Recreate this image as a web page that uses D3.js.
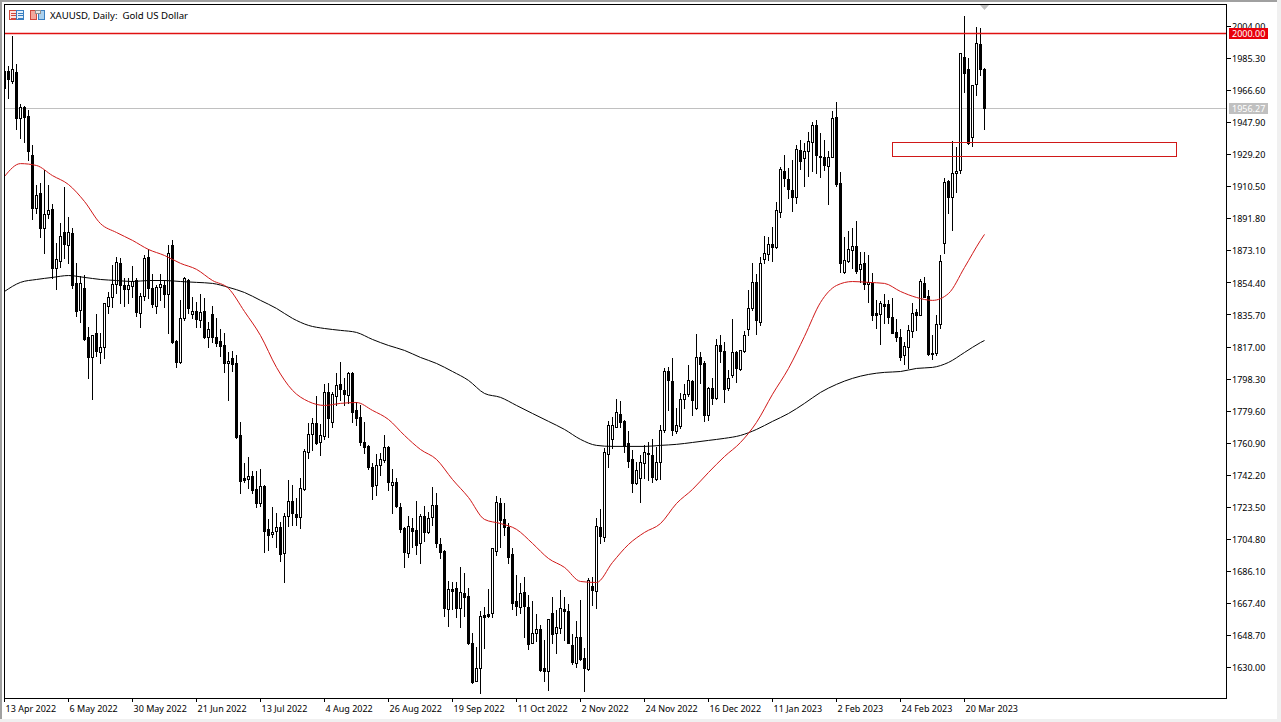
<!DOCTYPE html>
<html>
<head>
<meta charset="utf-8">
<title>XAUUSD Daily</title>
<script src="https://cdn.jsdelivr.net/npm/d3@7"></script>
<style>
  html, body { margin: 0; padding: 0; background: #fff; overflow: hidden; }
  text { font-family: "Noto Sans", sans-serif; font-size: 9px; fill: #000; }
</style>
</head>
<body>
<div id="visualization"></div>
<script>
const opens = [
  1977.8,1977.8,1971.9,1977.2,1950.3,1956.7,1951.5,1928.8,1897.8,1906.6,
  1886.2,1894.4,1897.2,1862.8,1866.9,1883.8,1876.2,1883.2,1854.1,1838.3,
  1851.2,1822.6,1810.9,1824.9,1813.8,1816.7,1840.7,1845.9,1853.5,1865.7,
  1852.9,1850.6,1852.3,1855.8,1836.5,1846.5,1869.3,1851.2,1840.7,1851.8,
  1852.9,1847.7,1876.2,1820.2,1808.0,1833.7,1855.8,1835.9,1837.7,1832.5,
  1837.7,1822.6,1835.9,1822.6,1820.2,1817.9,1807.4,1810.3,1807.4,1765.4,
  1740.3,1739.7,1741.5,1733.9,1725.7,1735.6,1710.6,1707.6,1709.4,1711.7,
  1696.6,1718.1,1726.9,1719.3,1717.5,1733.9,1755.4,1766.0,1772.3,1761.3,
  1764.8,1790.5,1773.0,1788.2,1795.2,1791.7,1788.8,1801.5,1780.0,1775.9,
  1761.3,1759.0,1746.7,1736.2,1747.9,1750.8,1758.4,1736.2,1737.9,1723.4,
  1711.2,1696.6,1711.2,1710.0,1702.4,1718.1,1708.8,1717.5,1724.6,1701.8,
  1697.7,1664.0,1675.6,1676.1,1664.5,1673.3,1671.5,1644.0,1621.8,1629.4,
  1660.3,1660.9,1661.5,1697.7,1725.7,1716.4,1711.7,1696.0,1668.5,1665.1,
  1673.8,1665.1,1644.0,1649.9,1652.2,1629.5,1627.7,1661.5,1649.9,1652.8,
  1663.9,1662.7,1642.9,1632.4,1647.5,1635.3,1628.9,1677.2,1674.4,1711.7,
  1705.9,1754.3,1763.1,1770.0,1777.7,1773.6,1760.7,1751.4,1737.4,1740.3,
  1749.0,1754.9,1753.7,1739.7,1749.6,1768.3,1802.7,1796.9,1767.7,1770.6,
  1786.4,1789.4,1796.9,1781.1,1810.9,1807.4,1777.1,1793.0,1787.0,1817.9,
  1814.4,1793.0,1800.4,1813.8,1803.9,1814.4,1827.2,1839.5,1854.6,1831.3,
  1868.1,1871.0,1876.8,1875.0,1895.5,1919.5,1914.8,1908.3,1904.3,1931.7,
  1927.0,1931.1,1936.3,1946.3,1928.2,1927.6,1922.4,1927.6,1950.9,1912.4,
  1860.5,1866.9,1873.3,1875.6,1862.3,1865.8,1853.5,1854.1,1836.5,1835.9,
  1841.8,1841.8,1834.2,1825.5,1822.6,1812.1,1816.7,1826.1,1837.1,1835.4,
  1854.1,1846.5,1813.3,1813.3,1830.1,1877.4,1913.6,1904.3,1918.3,1920.0,
  1985.9,1978.9,1939.3,1970.2,1993.5,1978.9
];
const highs = [
  1978.4,1980.7,1998.2,1981.9,1958.5,1957.4,1955.0,1934.6,1911.3,1912.4,
  1920.0,1911.3,1900.2,1877.4,1889.1,1910.1,1892.6,1886.2,1865.7,1858.2,
  1858.7,1828.4,1823.7,1836.0,1824.9,1842.4,1848.8,1864.6,1869.3,1868.7,
  1857.0,1857.0,1864.0,1857.0,1848.2,1870.4,1873.9,1859.3,1852.9,1859.3,
  1855.8,1876.2,1879.2,1820.8,1844.2,1857.6,1856.4,1845.9,1843.0,1847.7,
  1845.3,1831.3,1840.7,1833.7,1827.2,1824.9,1813.8,1814.4,1812.1,1773.0,
  1749.0,1752.5,1744.4,1744.4,1745.6,1736.2,1716.4,1723.4,1719.9,1714.6,
  1719.9,1739.1,1736.2,1728.7,1740.3,1757.2,1772.3,1775.3,1788.0,1771.8,
  1795.2,1795.7,1790.5,1801.5,1808.0,1798.7,1802.2,1802.2,1784.6,1782.9,
  1773.0,1759.6,1749.0,1754.3,1754.9,1765.4,1759.0,1745.6,1740.3,1725.7,
  1711.7,1718.1,1717.0,1726.9,1719.3,1724.0,1720.5,1735.0,1731.5,1705.3,
  1698.3,1680.2,1679.6,1679.6,1688.4,1684.9,1676.1,1649.9,1641.7,1662.7,
  1665.0,1675.6,1699.5,1729.8,1728.7,1725.7,1714.0,1699.5,1683.7,1679.0,
  1682.5,1672.1,1668.5,1660.9,1654.5,1645.8,1658.0,1670.9,1663.3,1675.0,
  1670.9,1666.8,1649.0,1657.0,1669.1,1641.1,1682.0,1682.5,1717.0,1722.2,
  1757.8,1773.5,1775.9,1786.4,1785.2,1774.1,1767.7,1756.6,1749.6,1753.7,
  1759.6,1761.3,1763.1,1758.4,1771.2,1804.5,1805.1,1810.3,1781.1,1789.9,
  1795.2,1806.2,1797.5,1824.3,1813.8,1808.6,1793.4,1798.6,1821.4,1823.7,
  1819.6,1803.3,1833.1,1814.4,1815.0,1826.1,1850.0,1865.7,1859.3,1869.3,
  1881.5,1880.9,1886.6,1901.3,1921.7,1928.8,1921.2,1925.8,1934.6,1937.5,
  1935.8,1942.2,1948.0,1949.2,1941.6,1937.5,1931.1,1954.4,1959.7,1918.8,
  1880.9,1884.4,1886.2,1890.2,1872.2,1872.2,1870.4,1860.0,1844.2,1843.6,
  1847.7,1844.2,1845.3,1833.1,1827.2,1819.6,1829.6,1842.4,1838.9,1856.4,
  1857.6,1850.0,1823.7,1835.4,1870.4,1915.3,1914.2,1936.9,1933.4,1988.3,
  2009.8,1985.3,1969.6,2003.5,2002.9,1979.5
];
const lows = [
  1966.1,1962.0,1970.8,1943.9,1938.7,1936.3,1925.8,1891.4,1894.9,1880.9,
  1871.5,1892.0,1857.0,1850.6,1863.4,1868.7,1865.7,1851.2,1834.8,1831.3,
  1820.8,1798.6,1786.4,1811.5,1807.4,1810.3,1836.5,1840.1,1848.2,1842.4,
  1840.7,1842.4,1845.9,1834.8,1828.4,1844.2,1845.3,1840.1,1836.5,1844.2,
  1840.1,1824.9,1819.0,1805.1,1807.4,1832.5,1836.5,1833.7,1828.4,1828.4,
  1822.0,1816.7,1819.6,1817.3,1811.5,1802.2,1785.8,1802.7,1763.7,1731.5,
  1737.9,1734.5,1731.5,1723.4,1724.0,1697.1,1698.3,1705.9,1700.1,1691.9,
  1679.6,1712.3,1712.9,1712.9,1711.2,1733.3,1751.9,1756.6,1760.2,1753.7,
  1763.1,1764.3,1770.0,1782.9,1785.8,1782.9,1784.1,1773.0,1771.2,1759.6,
  1755.1,1745.6,1728.1,1730.4,1742.1,1749.6,1733.3,1719.9,1723.4,1708.8,
  1688.4,1694.3,1700.1,1696.0,1690.7,1703.5,1708.2,1712.9,1700.1,1693.6,
  1659.8,1653.9,1664.0,1659.2,1653.3,1659.8,1643.4,1620.7,1621.8,1614.8,
  1641.1,1659.2,1659.2,1695.4,1700.1,1707.1,1690.7,1664.0,1660.3,1661.5,
  1647.5,1640.5,1644.0,1645.2,1627.7,1621.8,1616.6,1644.0,1638.2,1649.9,
  1645.8,1644.0,1631.8,1630.0,1634.1,1616.0,1628.3,1666.2,1664.5,1702.4,
  1703.5,1746.7,1757.8,1770.0,1770.0,1755.5,1746.7,1732.1,1736.8,1726.3,
  1740.3,1739.1,1737.9,1739.1,1739.7,1767.1,1780.0,1765.4,1766.5,1769.4,
  1781.1,1788.2,1777.1,1780.5,1795.7,1773.6,1774.1,1783.5,1786.4,1808.0,
  1784.6,1791.7,1799.2,1796.3,1803.3,1813.8,1823.7,1838.3,1824.3,1829.6,
  1865.7,1867.5,1866.9,1874.5,1892.6,1910.7,1903.6,1896.1,1900.8,1920.6,
  1910.7,1916.5,1919.5,1918.3,1915.9,1920.0,1900.2,1927.6,1910.7,1860.5,
  1859.9,1866.3,1862.8,1859.9,1854.7,1850.6,1843.0,1832.5,1827.8,1818.5,
  1830.7,1830.7,1826.1,1820.2,1809.2,1806.8,1804.5,1822.6,1826.7,1835.4,
  1845.9,1812.1,1809.8,1812.1,1827.8,1871.5,1894.9,1885.0,1907.1,1918.3,
  1965.5,1935.2,1934.0,1963.8,1975.4,1943.9
];
const closes = [
  1967.9,1973.1,1979.0,1950.3,1956.7,1950.9,1931.1,1897.8,1905.4,1886.2,
  1894.4,1896.7,1862.8,1868.1,1881.5,1876.8,1883.8,1852.9,1837.7,1854.1,
  1821.4,1810.9,1823.7,1814.4,1816.7,1842.4,1845.9,1853.5,1866.3,1852.9,
  1850.6,1852.9,1855.2,1837.1,1846.5,1868.7,1851.2,1841.9,1851.8,1853.5,
  1847.7,1871.5,1819.6,1808.0,1833.7,1857.0,1839.5,1837.7,1833.1,1837.1,
  1822.6,1827.2,1822.6,1819.0,1817.3,1807.4,1808.6,1806.8,1764.3,1738.5,
  1739.1,1741.5,1733.3,1725.7,1735.6,1709.4,1707.1,1708.8,1711.7,1696.0,
  1718.1,1726.9,1719.9,1717.5,1734.5,1756.0,1766.0,1772.3,1760.7,1765.4,
  1790.5,1775.3,1789.4,1794.6,1792.3,1789.4,1801.5,1778.8,1775.3,1761.3,
  1758.4,1746.7,1735.6,1747.9,1751.4,1758.4,1737.9,1737.9,1724.0,1710.6,
  1697.1,1712.3,1709.4,1701.2,1718.1,1708.8,1717.0,1724.6,1702.4,1697.1,
  1664.5,1675.6,1674.4,1664.5,1673.8,1670.9,1644.0,1621.2,1629.4,1659.8,
  1659.2,1659.8,1699.5,1726.3,1715.8,1711.7,1694.3,1667.3,1665.7,1673.3,
  1665.7,1643.4,1649.9,1652.2,1628.3,1627.7,1658.0,1649.3,1653.3,1664.5,
  1662.7,1644.0,1633.0,1647.5,1634.7,1629.5,1680.8,1675.0,1712.3,1706.5,
  1755.4,1771.2,1771.2,1778.8,1773.0,1759.0,1750.2,1737.4,1745.0,1749.6,
  1755.4,1754.3,1740.9,1749.6,1768.3,1802.7,1797.5,1768.3,1771.2,1786.4,
  1789.4,1797.5,1785.8,1810.9,1806.8,1777.1,1793.0,1787.0,1817.9,1814.4,
  1792.3,1798.6,1813.8,1804.5,1815.0,1823.7,1839.5,1854.6,1832.5,1865.7,
  1871.5,1876.8,1875.0,1896.7,1920.6,1915.4,1908.9,1904.3,1932.3,1925.2,
  1931.1,1936.9,1946.3,1928.8,1927.6,1923.0,1927.6,1950.3,1911.8,1865.7,
  1867.5,1873.9,1875.6,1861.1,1865.2,1853.5,1854.7,1835.4,1835.4,1842.4,
  1840.7,1834.2,1824.9,1822.6,1810.9,1817.3,1826.7,1836.5,1835.4,1855.2,
  1845.9,1812.7,1812.7,1830.1,1866.9,1913.0,1904.3,1918.3,1919.5,1988.3,
  1976.6,1935.8,1969.6,1994.1,1978.9,1956.27
];

// moving averages, read every 4th bar plus the last one
const maBars = [
  0,4,8,12,16,20,24,28,32,36,40,44,48,52,56,60,64,68,72,76,80,84,88,92,96,100,
  104,108,112,116,120,124,128,132,136,140,144,148,152,156,160,164,168,172,176,180,
  184,188,192,196,200,204,208,212,216,220,224,228,232,236,240,244,245
];
const maRed = [
  1916.5,1924.0,1922.9,1917.0,1911.8,1901.9,1889.0,1883.8,1879.2,1873.9,1870.4,1865.8,1862.3,
  1855.8,1851.2,1837.7,1823.7,1805.1,1791.7,1785.2,1782.9,1784.1,1784.6,1780.0,1774.7,1765.4,
  1757.2,1751.4,1739.7,1729.2,1716.4,1714.0,1710.6,1702.4,1693.6,1688.4,1680.2,1679.6,1691.3,
  1701.8,1708.8,1714.0,1725.7,1733.9,1743.8,1753.1,1761.3,1773.0,1789.4,1804.5,1823.2,1843.0,
  1852.9,1855.2,1854.7,1854.1,1849.4,1845.9,1844.2,1848.2,1863.4,1879.2,1882.7
];
const maBlack = [
  1849.4,1854.7,1856.4,1857.6,1858.7,1857.6,1856.4,1855.8,1855.2,1855.8,1855.8,1855.2,1854.7,
  1854.1,1851.8,1848.8,1844.2,1839.5,1833.7,1829.6,1827.8,1826.7,1825.5,1821.4,1817.9,1815.0,
  1810.9,1807.4,1802.7,1797.5,1789.9,1787.6,1782.9,1778.2,1773.6,1768.9,1763.1,1759.6,1759.0,
  1759.0,1759.0,1759.6,1760.2,1761.3,1762.5,1763.7,1765.4,1768.9,1773.6,1778.2,1784.1,1790.5,
  1795.2,1798.7,1801.0,1802.2,1802.7,1804.5,1805.1,1808.0,1813.8,1819.6,1820.8
];

const priceTicks = [2004,1985.3,1966.6,1947.9,1929.2,1910.5,1891.8,1873.1,1854.4,1835.7,1817,1798.3,1779.6,1760.9,1742.2,1723.5,1704.8,1686.1,1667.4,1648.7,1630];
const dateBars = [0,16,32,48,64,80,96,112,128,144,160,176,192,208,224,240];
const dateLabels = ['13 Apr 2022','6 May 2022','30 May 2022','21 Jun 2022','13 Jul 2022','4 Aug 2022','26 Aug 2022','19 Sep 2022','11 Oct 2022','2 Nov 2022','24 Nov 2022','16 Dec 2022','11 Jan 2023','2 Feb 2023','24 Feb 2023','20 Mar 2023'];

const levelPrice = 2000;
const lastPrice = 1956.27;
const zoneBars = [222, 293];
const zonePrices = [1936.4, 1928.2];

const width = 1281;
const height = 722;
const frame = { left: 4, top: 4, right: 1226, bottom: 698 };

const svg = d3.select('#visualization')
    .append('svg')
    .attr('width', width)
    .attr('height', height)
    .style('display', 'block');

// window edges
svg.append('rect').attr('width', width).attr('height', 2).attr('fill', '#a0a0a0');
svg.append('rect').attr('width', 2).attr('height', height).attr('fill', '#a0a0a0');
svg.append('rect').attr('x', 1277).attr('width', 4).attr('height', height).attr('fill', '#f0f0f0');
svg.append('rect').attr('y', 719).attr('width', width).attr('height', 3).attr('fill', '#f0f0f0');

const xScale = d3.scaleLinear().domain([0, 245]).range([4, 984]);
const yScale = d3.scaleLinear().domain([1630, 2004]).range([667, 26]);
const px = v => Math.round(xScale(v));
const py = v => Math.round(yScale(v));

svg.append('defs').append('clipPath').attr('id', 'plot')
    .append('rect')
    .attr('x', frame.left).attr('y', frame.top)
    .attr('width', frame.right - frame.left).attr('height', frame.bottom - frame.top);

const plot = svg.append('g').attr('clip-path', 'url(#plot)');

// grey last-price line sits under the candles
plot.append('line')
    .attr('x1', frame.left).attr('x2', frame.right)
    .attr('y1', py(lastPrice) + 0.5).attr('y2', py(lastPrice) + 0.5)
    .attr('stroke', '#c0c0c0');

// candles
const bars = plot.append('g')
    .attr('shape-rendering', 'crispEdges')
    .selectAll('g')
    .data(d3.range(opens.length))
    .join('g');

bars.append('line')
    .attr('x1', d => px(d) + 0.5)
    .attr('x2', d => px(d) + 0.5)
    .attr('y1', d => py(highs[d]))
    .attr('y2', d => py(lows[d]) + 1)
    .attr('stroke', '#000');

bars.append('rect')
    .attr('x', d => px(d) - 0.5)
    .attr('y', d => py(Math.max(opens[d], closes[d])) + 0.5)
    .attr('width', 2)
    .attr('height', d => py(Math.min(opens[d], closes[d])) - py(Math.max(opens[d], closes[d])))
    .attr('fill', d => closes[d] >= opens[d] ? '#fff' : '#000')
    .attr('stroke', '#000');

// 2000 level and the zone box
plot.append('line')
    .attr('x1', frame.left).attr('x2', frame.right)
    .attr('y1', py(levelPrice) + 0.5).attr('y2', py(levelPrice) + 0.5)
    .attr('stroke', '#e01010')
    .attr('stroke-width', 1.6);
plot.append('rect')
    .attr('x', px(zoneBars[0]) + 0.5)
    .attr('y', py(zonePrices[0]) + 0.5)
    .attr('width', px(zoneBars[1]) - px(zoneBars[0]))
    .attr('height', py(zonePrices[1]) - py(zonePrices[0]))
    .attr('fill', 'none')
    .attr('stroke', '#d01818');

// moving averages
const maLine = d3.line()
    .x((d, i) => xScale(maBars[i]) + 0.5)
    .y(d => yScale(d) + 0.5)
    .curve(d3.curveMonotoneX);

plot.append('path').attr('d', maLine(maBlack)).attr('fill', 'none').attr('stroke', '#000').attr('stroke-width', 1);
plot.append('path').attr('d', maLine(maRed)).attr('fill', 'none').attr('stroke', '#d01818').attr('stroke-width', 1);

// frame and axes
svg.append('rect')
    .attr('x', frame.left + 0.5).attr('y', frame.top + 0.5)
    .attr('width', frame.right - frame.left).attr('height', frame.bottom - frame.top)
    .attr('fill', 'none').attr('stroke', '#000')
    .attr('shape-rendering', 'crispEdges');

const yAxis = d3.axisRight(yScale)
    .tickValues(priceTicks)
    .tickSize(5)
    .tickPadding(1)
    .tickSizeOuter(0)
    .tickFormat(d => d.toFixed(2));

const xAxis = d3.axisBottom(xScale)
    .tickValues(dateBars)
    .tickSize(4)
    .tickPadding(4)
    .tickSizeOuter(0)
    .tickFormat((d, i) => dateLabels[i]);

const yG = svg.append('g')
    .attr('transform', `translate(${frame.right},0)`)
    .attr('shape-rendering', 'crispEdges')
    .call(yAxis);
yG.select('.domain').remove();
yG.selectAll('text').attr('dy', 3.6);

const xG = svg.append('g')
    .attr('transform', `translate(0,${frame.bottom})`)
    .attr('shape-rendering', 'crispEdges')
    .call(xAxis);
xG.select('.domain').remove();
xG.selectAll('text')
    .attr('text-anchor', 'start')
    .attr('dx', 1);

svg.selectAll('g.tick text').style('font-family', '"Noto Sans", sans-serif').style('font-size', '9px');
svg.selectAll('g.tick line').attr('stroke', '#000');

// price tags on the axis
[[levelPrice, '#e8000b'], [lastPrice, '#c0c0c0']].forEach(([price, colour]) => {
    const y = py(price);
    svg.append('rect')
        .attr('x', 1229).attr('y', y - 5)
        .attr('width', 39).attr('height', 11)
        .attr('fill', colour);
    svg.append('text')
        .attr('x', 1232).attr('y', y + 4)
        .style('fill', '#fff')
        .text(price.toFixed(2));
});

// last-bar marker at the top
svg.append('path')
    .attr('d', d3.line()([[px(245) - 4, 5], [px(245) + 5, 5], [px(245) + 0.5, 10]]) + 'Z')
    .attr('fill', '#c0c0c0');

// title and its two small icons
const icons = svg.append('g').attr('shape-rendering', 'crispEdges');
icons.append('rect').attr('x', 9.5).attr('y', 10.5).attr('width', 7).attr('height', 9).attr('fill', '#fbe3de').attr('stroke', '#d0483c');
icons.append('rect').attr('x', 16.5).attr('y', 10.5).attr('width', 7).attr('height', 9).attr('fill', '#e2effa').attr('stroke', '#3a7fc0');
[13, 15.5, 18].forEach(y => {
    icons.append('line').attr('x1', 11).attr('x2', 16).attr('y1', y).attr('y2', y).attr('stroke', '#d0483c');
    icons.append('line').attr('x1', 18).attr('x2', 23).attr('y1', y).attr('y2', y).attr('stroke', '#3a7fc0');
});
icons.append('rect').attr('x', 30.5).attr('y', 10.5).attr('width', 6).attr('height', 9).attr('fill', '#f3a79c').attr('stroke', '#d0483c');
icons.append('rect').attr('x', 38.5).attr('y', 10.5).attr('width', 6).attr('height', 9).attr('fill', '#a9d0ee').attr('stroke', '#3a7fc0');
icons.append('rect').attr('x', 35.5).attr('y', 10.5).attr('width', 5).attr('height', 3).attr('fill', '#e8e8e8').attr('stroke', '#909090');

svg.append('text')
    .attr('x', 50).attr('y', 19)
    .style('font-size', '9.6px')
    .style('white-space', 'pre')
    .text('XAUUSD, Daily:  Gold US Dollar');
</script>
</body>
</html>
